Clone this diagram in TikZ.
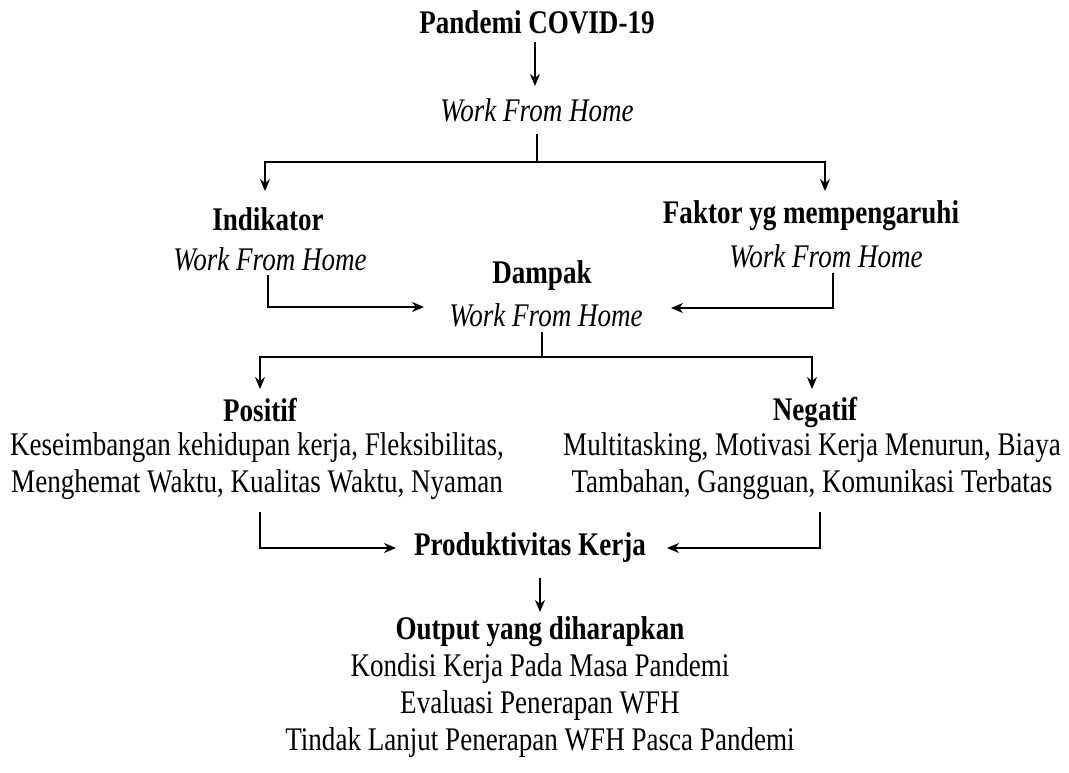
\documentclass[tikz,border=0pt]{standalone}
\usepackage{fontspec}
\setmainfont{Liberation Serif}[FakeStretch=0.82]
\usetikzlibrary{arrows.meta}
\begin{document}
\begin{tikzpicture}[x=1pt,y=-1pt,
  txt/.style={inner sep=2pt,font=\fontsize{33}{37}\selectfont,align=center},
  hd/.style={txt,font=\fontsize{33}{37}\selectfont\bfseries},
  it/.style={txt,font=\fontsize{33}{37}\selectfont\itshape},
  ln/.style={line width=2.8pt},
  arr/.style={line width=2.8pt,-{Stealth[length=12pt,width=10pt]}}]
\useasboundingbox (0,0) rectangle (1069,772);
\node[hd] (covid) at (537,22) {Pandemi COVID-19};
\node[it] (wfh) at (537,110) {Work From Home};
\node[hd] (ind) at (268,219) {Indikator};
\node[it] (indw) at (270,259) {Work From Home};
\node[hd] (fak) at (811,216) {Faktor yg mempengaruhi};
\node[it] (fakw) at (826,256) {Work From Home};
\node[hd] (dam) at (542,276) {Dampak};
\node[it] (damw) at (546,315) {Work From Home};
\node[hd] (pos) at (260,410) {Positif};
\node[txt] (posb) at (257,466) {Keseimbangan kehidupan kerja, Fleksibilitas,\\Menghemat Waktu, Kualitas Waktu, Nyaman};
\node[hd] (neg) at (815,413) {Negatif};
\node[txt] (negb) at (812,466) {Multitasking, Motivasi Kerja Menurun, Biaya\\Tambahan, Gangguan, Komunikasi Terbatas};
\node[hd] (prod) at (530,548) {Produktivitas Kerja};
\node[hd] (out) at (540,632) {Output yang diharapkan};
\node[txt] (outb) at (540,706) {Kondisi Kerja Pada Masa Pandemi\\Evaluasi Penerapan WFH\\Tindak Lanjut Penerapan WFH Pasca Pandemi};
% coordinates
\coordinate (a1) at (535,42);
\coordinate (a2) at (535,86);
\coordinate (b0) at (537,134);
\coordinate (b1) at (537,162);
\coordinate (bl) at (265,191);
\coordinate (br) at (825,191);
\coordinate (c0) at (268,275);
\coordinate (c1) at (424,307);
\coordinate (d0) at (833,273);
\coordinate (d1) at (671,308);
\coordinate (e0) at (542,332);
\coordinate (e1) at (542,357);
\coordinate (el) at (260,389);
\coordinate (er) at (812,389);
\coordinate (f0) at (260,512);
\coordinate (f1) at (396,548);
\coordinate (g0) at (820,512);
\coordinate (g1) at (667,548);
\coordinate (h0) at (540,578);
\coordinate (h1) at (540,612);
\draw[arr] (a1) -- (a2);
\draw[ln] (b0) -- (b1);
\draw[arr] (b1) -| (bl);
\draw[arr] (b1) -| (br);
\draw[arr] (c0) |- (c1);
\draw[arr] (d0) |- (d1);
\draw[ln] (e0) -- (e1);
\draw[arr] (e1) -| (el);
\draw[arr] (e1) -| (er);
\draw[arr] (f0) |- (f1);
\draw[arr] (g0) |- (g1);
\draw[arr] (h0) -- (h1);
\end{tikzpicture}
\end{document}
